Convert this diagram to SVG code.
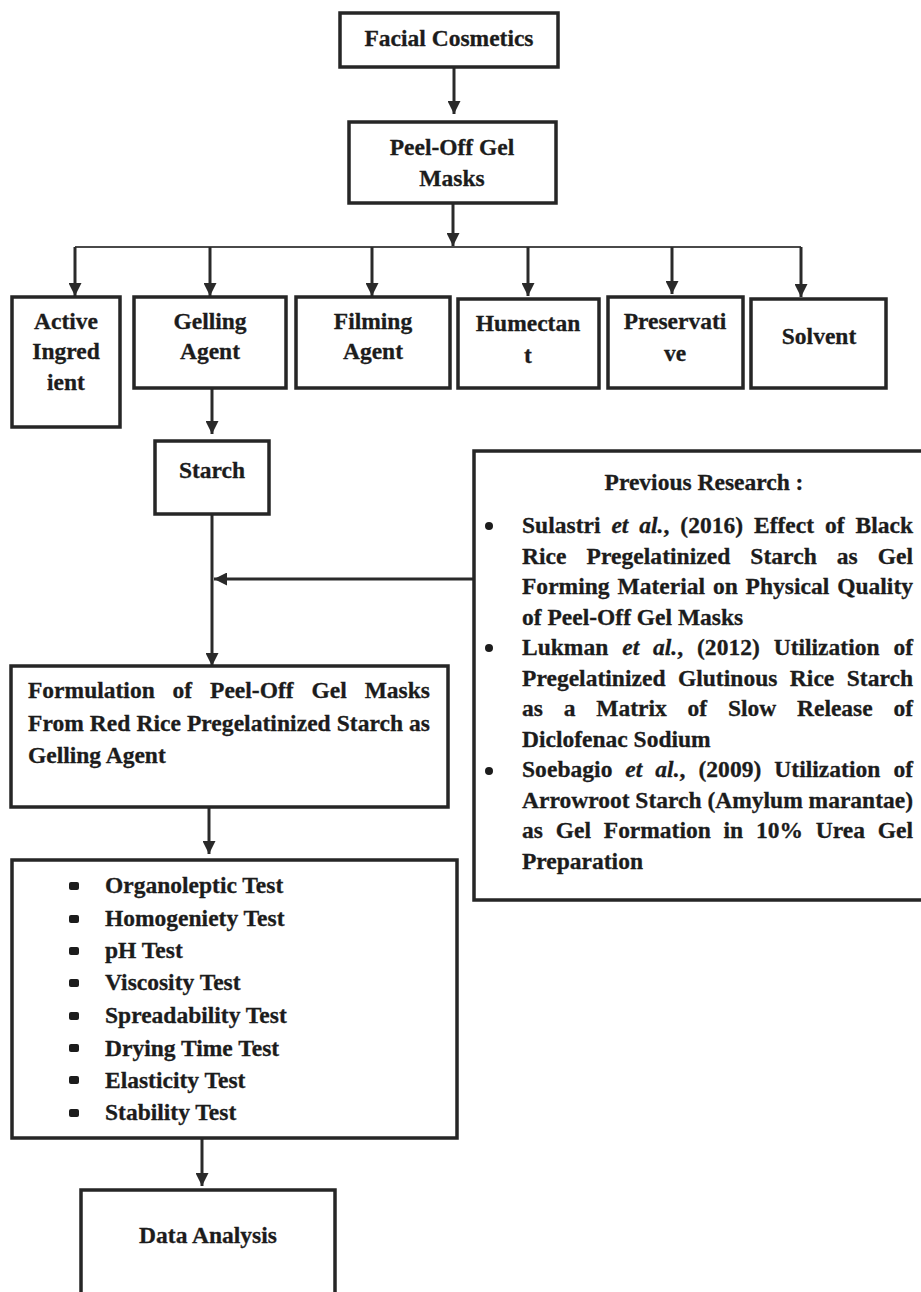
<svg xmlns="http://www.w3.org/2000/svg" width="921" height="1292" viewBox="0 0 921 1292">
<defs>
<style>
.box{fill:#fff;stroke:#262626;stroke-width:3.5}
.t{font-family:"Liberation Serif","Times New Roman",serif;font-weight:bold;font-size:23.5px;fill:#1c1c1c;stroke:#1c1c1c;stroke-width:0.3}
.c{text-anchor:middle}
.ln{stroke:#2a2a2a;stroke-width:3;fill:none}
.thin{stroke:#4a4a4a;stroke-width:2;fill:none}
.dot{fill:#1c1c1c}
</style>
<marker id="ah" markerWidth="13" markerHeight="13" refX="13" refY="6.5" orient="auto" markerUnits="userSpaceOnUse">
<path d="M0,0 L13,6.5 L0,13 z" fill="#2a2a2a"/>
</marker>
</defs>
<rect width="921" height="1292" fill="#fff"/>

<g id="connectors">
<line class="ln" x1="454" y1="67" x2="454" y2="114" marker-end="url(#ah)"/>
<line class="ln" x1="453" y1="203" x2="453" y2="246" marker-end="url(#ah)"/>
<line class="thin" x1="75" y1="247" x2="801" y2="247"/>
<line class="ln" x1="75" y1="247" x2="75" y2="296" marker-end="url(#ah)"/>
<line class="ln" x1="210" y1="247" x2="210" y2="296" marker-end="url(#ah)"/>
<line class="ln" x1="372" y1="247" x2="372" y2="296" marker-end="url(#ah)"/>
<line class="ln" x1="528" y1="247" x2="528" y2="296" marker-end="url(#ah)"/>
<line class="ln" x1="672" y1="247" x2="672" y2="294" marker-end="url(#ah)"/>
<line class="ln" x1="801" y1="247" x2="801" y2="297" marker-end="url(#ah)"/>
<line class="ln" x1="212" y1="388" x2="212" y2="434" marker-end="url(#ah)"/>
<line class="ln" x1="212" y1="514" x2="212" y2="666" marker-end="url(#ah)"/>
<line class="ln" x1="474" y1="579" x2="214" y2="579" marker-end="url(#ah)"/>
<line class="ln" x1="209" y1="807" x2="209" y2="854" marker-end="url(#ah)"/>
<line class="ln" x1="202" y1="1138" x2="202" y2="1186" marker-end="url(#ah)"/>
</g>

<g id="facial-cosmetics">
<rect class="box" x="340" y="13" width="218" height="54"/>
<text class="t c" x="449" y="46">Facial Cosmetics</text>
</g>

<g id="peel-off-gel-masks">
<rect class="box" x="349" y="122" width="207" height="81"/>
<text class="t c" x="452" y="155">Peel-Off Gel</text>
<text class="t c" x="452" y="186">Masks</text>
</g>

<g id="active-ingredient">
<rect class="box" x="12" y="297" width="108" height="130"/>
<text class="t c" x="66" y="329">Active</text>
<text class="t c" x="66" y="359">Ingred</text>
<text class="t c" x="66" y="390">ient</text>
</g>

<g id="gelling-agent">
<rect class="box" x="134" y="297" width="152" height="91"/>
<text class="t c" x="210" y="329">Gelling</text>
<text class="t c" x="210" y="359">Agent</text>
</g>

<g id="filming-agent">
<rect class="box" x="296" y="297" width="154" height="91"/>
<text class="t c" x="373" y="329">Filming</text>
<text class="t c" x="373" y="359">Agent</text>
</g>

<g id="humectant">
<rect class="box" x="458" y="299" width="141" height="89"/>
<text class="t c" x="528" y="331">Humectan</text>
<text class="t c" x="528" y="363">t</text>
</g>

<g id="preservative">
<rect class="box" x="608" y="297" width="135" height="91"/>
<text class="t c" x="675" y="329">Preservati</text>
<text class="t c" x="675" y="361">ve</text>
</g>

<g id="solvent">
<rect class="box" x="751" y="299" width="135" height="89"/>
<text class="t c" x="819" y="344">Solvent</text>
</g>

<g id="starch">
<rect class="box" x="155" y="441" width="114" height="73"/>
<text class="t c" x="212" y="478">Starch</text>
</g>

<g id="previous-research">
<path class="box" d="M923,451 H474 V900 H923"/>
<text class="t c" x="704" y="490">Previous Research :</text>
<circle class="dot" cx="489" cy="526" r="4"/>
<circle class="dot" cx="489" cy="648" r="4"/>
<circle class="dot" cx="489" cy="771" r="4"/>
<text class="t" x="522" y="533" word-spacing="5" textLength="391" lengthAdjust="spacing">Sulastri <tspan font-style="italic">et al.</tspan>, (2016) Effect of Black</text>
<text class="t" x="522" y="563.5" word-spacing="14" textLength="391" lengthAdjust="spacing">Rice Pregelatinized Starch as Gel</text>
<text class="t" x="522" y="594" word-spacing="2" textLength="391" lengthAdjust="spacing">Forming Material on Physical Quality</text>
<text class="t" x="522" y="624.5">of Peel-Off Gel Masks</text>
<text class="t" x="522" y="655" word-spacing="8" textLength="391" lengthAdjust="spacing">Lukman <tspan font-style="italic">et al.</tspan>, (2012) Utilization of</text>
<text class="t" x="522" y="685.5" word-spacing="6.5" textLength="391" lengthAdjust="spacing">Pregelatinized Glutinous Rice Starch</text>
<text class="t" x="522" y="716" word-spacing="15" textLength="391" lengthAdjust="spacing">as a Matrix of Slow Release of</text>
<text class="t" x="522" y="746.5">Diclofenac Sodium</text>
<text class="t" x="522" y="777" word-spacing="7" textLength="391" lengthAdjust="spacing">Soebagio <tspan font-style="italic">et al.</tspan>, (2009) Utilization of</text>
<text class="t" x="522" y="807.5" textLength="391" lengthAdjust="spacing">Arrowroot Starch (Amylum marantae)</text>
<text class="t" x="522" y="838" word-spacing="7" textLength="391" lengthAdjust="spacing">as Gel Formation in 10% Urea Gel</text>
<text class="t" x="522" y="868.5">Preparation</text>
</g>

<g id="formulation">
<rect class="box" x="11" y="666" width="437" height="141"/>
<text class="t" x="28" y="698" word-spacing="12" textLength="402" lengthAdjust="spacing">Formulation of Peel-Off Gel Masks</text>
<text class="t" x="28" y="731" textLength="402" lengthAdjust="spacing">From Red Rice Pregelatinized Starch as</text>
<text class="t" x="28" y="763">Gelling Agent</text>
</g>

<g id="tests">
<rect class="box" x="12" y="860" width="445" height="278"/>
<rect class="dot" x="69" y="882" width="10" height="8" rx="2"/>
<rect class="dot" x="69" y="915" width="10" height="8" rx="2"/>
<rect class="dot" x="69" y="947" width="10" height="8" rx="2"/>
<rect class="dot" x="69" y="979" width="10" height="8" rx="2"/>
<rect class="dot" x="69" y="1012" width="10" height="8" rx="2"/>
<rect class="dot" x="69" y="1044" width="10" height="8" rx="2"/>
<rect class="dot" x="69" y="1076" width="10" height="8" rx="2"/>
<rect class="dot" x="69" y="1109" width="10" height="8" rx="2"/>
<text class="t" x="105" y="893">Organoleptic Test</text>
<text class="t" x="105" y="925.5">Homogeniety Test</text>
<text class="t" x="105" y="958">pH Test</text>
<text class="t" x="105" y="990">Viscosity Test</text>
<text class="t" x="105" y="1023">Spreadability Test</text>
<text class="t" x="105" y="1055.5">Drying Time Test</text>
<text class="t" x="105" y="1088">Elasticity Test</text>
<text class="t" x="105" y="1120">Stability Test</text>
</g>

<g id="data-analysis">
<rect class="box" x="81" y="1190" width="254" height="130"/>
<text class="t c" x="208" y="1243">Data Analysis</text>
</g>
</svg>
